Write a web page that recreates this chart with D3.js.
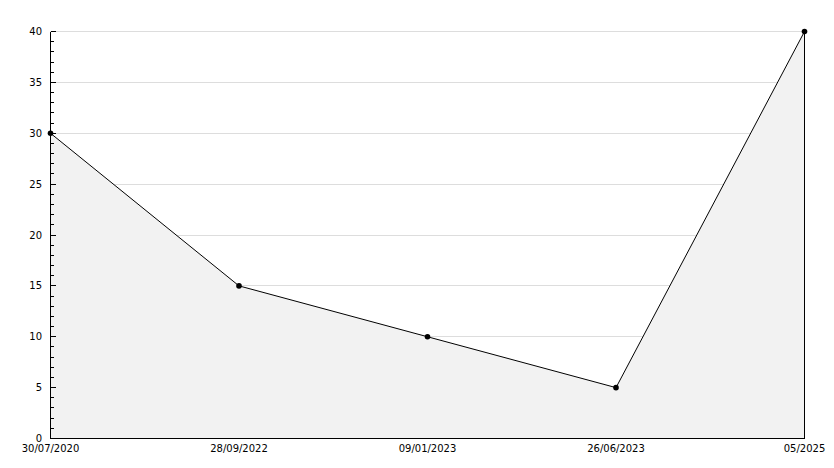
<!DOCTYPE html>
<html><head><meta charset="utf-8">
<script src="https://cdn.jsdelivr.net/npm/d3@7"></script>
<style>body{margin:0;background:#fff}svg{display:block}text{font-family:"DejaVu Sans",sans-serif;font-size:10px;fill:#000}</style>
</head><body><svg id="c" width="834" height="468"></svg>
<script>
const categories = ["30/07/2020","28/09/2022","09/01/2023","26/06/2023","05/2025"];
const values = [30,15,10,5,40];
const yTicks = [0,5,10,15,20,25,30,35,40];

const svg = d3.select("#c");
const L=50.5, R=804.5, T=31.5, B=438.5;
const x = d3.scalePoint().domain(categories).range([L,R]);
const y = d3.scaleLinear().domain([0,40]).range([B,T]);

// gridlines
svg.append("g").selectAll("line").data(yTicks.filter(d=>d>0)).join("line")
  .attr("x1",L).attr("x2",R).attr("y1",d=>Math.round(y(d))+0.5-0.5).attr("y2",d=>y(d))
  .attr("stroke","#dddddd").attr("stroke-width",1).attr("shape-rendering","crispEdges");

// area
const area = d3.area().x((d,i)=>x(categories[i])).y0(B).y1(d=>y(d));
svg.append("path").datum(values).attr("d",area).attr("fill","#f2f2f2");

// line
const line = d3.line().x((d,i)=>x(categories[i])).y(d=>y(d));
svg.append("path").datum(values).attr("d",line).attr("fill","none").attr("stroke","#000").attr("stroke-width",1);

// right edge
svg.append("line").attr("x1",R).attr("x2",R).attr("y1",y(values[values.length-1])).attr("y2",B)
  .attr("stroke","#000").attr("shape-rendering","crispEdges");

// axes lines
svg.append("line").attr("x1",L).attr("x2",L).attr("y1",T).attr("y2",B).attr("stroke","#000").attr("shape-rendering","crispEdges");
svg.append("line").attr("x1",L).attr("x2",R).attr("y1",B).attr("y2",B).attr("stroke","#000").attr("shape-rendering","crispEdges");

// minor ticks
const minor = d3.range(0,41,1);
svg.append("g").selectAll("line").data(minor).join("line")
  .attr("x1",L).attr("x2",d=>d%5===0?L+5:L+3)
  .attr("y1",d=>y(d)).attr("y2",d=>y(d))
  .attr("stroke","#000").attr("shape-rendering","crispEdges");

// y labels
svg.append("g").selectAll("text").data(yTicks).join("text")
  .attr("x",42).attr("y",d=>y(d)).attr("dy","0.35em").attr("text-anchor","end").text(d=>d);

// x labels
svg.append("g").selectAll("text").data(categories).join("text")
  .attr("x",(d,i)=>i===categories.length-1?x(d)+0:x(d)).attr("y",452).attr("text-anchor","middle").text(d=>d);

// points
svg.append("g").selectAll("circle").data(values).join("circle")
  .attr("cx",(d,i)=>x(categories[i])).attr("cy",d=>y(d)).attr("r",2.8).attr("fill","#000");
</script></body></html>
